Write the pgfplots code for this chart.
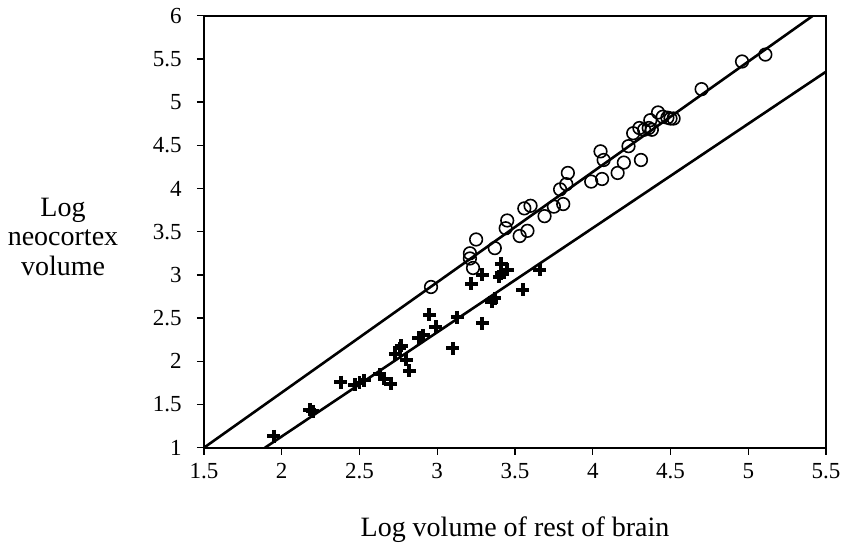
\documentclass[border=0pt]{standalone}
\usepackage{fontspec}
\setmainfont{Liberation Serif}
\usepackage{pgfplots}
\pgfplotsset{compat=1.18}
\pgfplotsset{every axis/.append style={line width=2pt}}

% Primates (open circles) and insectivores (crosses)
\pgfplotstableread{
x y
2.96 2.86
3.21 3.25
3.21 3.19
3.23 3.08
3.25 3.41
3.37 3.31
3.44 3.54
3.45 3.63
3.53 3.45
3.58 3.51
3.56 3.77
3.60 3.80
3.69 3.68
3.75 3.79
3.79 3.99
3.83 4.05
3.84 4.18
3.81 3.82
3.99 4.08
4.06 4.11
4.05 4.43
4.07 4.33
4.16 4.18
4.20 4.30
4.23 4.49
4.31 4.33
4.26 4.64
4.30 4.70
4.33 4.68
4.36 4.70
4.38 4.68
4.37 4.79
4.42 4.88
4.45 4.83
4.48 4.82
4.50 4.81
4.52 4.81
4.70 5.15
4.96 5.47
5.11 5.55
}\primates

\pgfplotstableread{
x y
1.95 1.13
2.18 1.44
2.20 1.42
2.38 1.76
2.47 1.73
2.50 1.75
2.53 1.78
2.63 1.85
2.66 1.80
2.70 1.74
2.73 2.09
2.76 2.15
2.77 2.18
2.80 2.02
2.82 1.89
2.88 2.27
2.91 2.30
2.95 2.54
2.99 2.40
3.10 2.15
3.13 2.51
3.22 2.90
3.29 2.44
3.29 3.00
3.35 2.69
3.37 2.73
3.40 2.98
3.41 3.02
3.41 3.13
3.45 3.06
3.55 2.83
3.66 3.06
}\insectivores

\begin{document}
\begin{tikzpicture}
\begin{axis}[
  name=ax,
  scale only axis,
  width=622bp, height=432bp,
  xmin=1.5, xmax=5.5, ymin=1, ymax=6,
  xtick={1.5,2,...,5.5},
  ytick={1,1.5,...,6},
  tick align=outside,
  xtick pos=bottom, ytick pos=left,
  major tick length=7bp,
  every tick/.style={black, line width=1.5pt},
  /pgf/number format/assume math mode=true,
  /pgf/number format/fixed,
  /pgf/number format/precision=1,
  xticklabel={\pgfmathprintnumber{\tick}},
  yticklabel={\pgfmathprintnumber{\tick}},
  tick label style={font=\fontsize{23bp}{28bp}\selectfont},
  yticklabel style={anchor=east, xshift=-11bp},
  xticklabel style={anchor=north, yshift=-4bp},
  xlabel={Log volume of rest of brain},
  xlabel style={font=\fontsize{28bp}{30bp}\selectfont, at={(rel axis cs:0.5,0)}, anchor=center, yshift=-82bp},
  ylabel={Log\\neocortex\\volume},
  ylabel style={font=\fontsize{28bp}{29.5bp}\selectfont, rotate=-90, align=center, at={(rel axis cs:0,0.5)}, anchor=center, xshift=-141bp, yshift=-5bp},
  clip=true,
]
% regression lines
\addplot[black, line width=2.6pt] coordinates {(1.5,1) (5.416,6)};
\addplot[black, line width=2.6pt] coordinates {(1.892,1) (5.5,5.352)};
% data
\addplot[only marks, mark=o, mark size=6.3bp, mark options={line width=1.6pt, black}] table[x=x,y=y] {\primates};
\addplot[only marks, mark=+, mark size=6.5bp, mark options={line width=4pt, black}] table[x=x,y=y] {\insectivores};
\end{axis}
\pgfresetboundingbox
\path[use as bounding box] ([shift={(-204bp,-97.3bp)}]ax.south west) rectangle ([shift={(24bp,15.7bp)}]ax.north east);
\end{tikzpicture}
\end{document}
